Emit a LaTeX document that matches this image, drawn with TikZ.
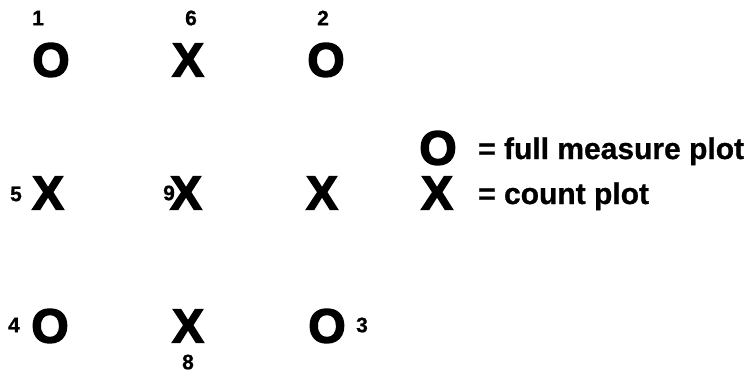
\documentclass[tikz,border=0pt]{standalone}
\usepackage{fontspec}
\setmainfont{Liberation Sans}
\newfontfamily\heavysym[FakeBold=3]{Liberation Sans Bold}
\newfontfamily\heavytxt[FakeBold=0.8]{Liberation Sans Bold}
\usetikzlibrary{positioning}
\tikzset{
  plotsym/.style={font=\fontsize{48}{48}\heavysym, inner sep=0pt},
  numlbl/.style={font=\fontsize{21}{21}\heavytxt, inner sep=0pt},
  legtext/.style={font=\fontsize{30}{30}\heavytxt, inner sep=0pt, anchor=base west}
}

\begin{document}
\begin{tikzpicture}[x=1pt,y=-1pt]
  \useasboundingbox (0,0) rectangle (751,373);
  % plot grid
  \node[plotsym] (p1) at (51,60) {O};
  \node[plotsym] (p6) at (188,60) {X};
  \node[plotsym] (p2) at (326,60) {O};
  \node[plotsym] (p5) at (48,193) {X};
  \node[plotsym] (p9) at (186,193) {X};
  \node[plotsym] (pc) at (322,193) {X};
  \node[plotsym] (p4) at (50,326) {O};
  \node[plotsym] (p8) at (188,326) {X};
  \node[plotsym] (p3) at (327,326) {O};

  \node[numlbl] (n1) at (38,18) {1};
  \node[numlbl] (n6) at (191,18) {6};
  \node[numlbl] (n2) at (323,18) {2};
  \node[numlbl] (n5) at (16,194) {5};
  \node[numlbl] (n9) at (169,193) {9};
  \node[numlbl] (n4) at (14,325) {4};
  \node[numlbl] (n3) at (362,325) {3};
  \node[numlbl] (n8) at (188,362) {8};

  % legend
  \node[plotsym] (lo) at (438,148) {O};
  \node[plotsym] (lx) at (437,193) {X};
  \node[legtext] (to) at (478,159) {= full measure plot};
  \node[legtext] (tx) at (478,204) {= count plot};
\end{tikzpicture}
\end{document}
